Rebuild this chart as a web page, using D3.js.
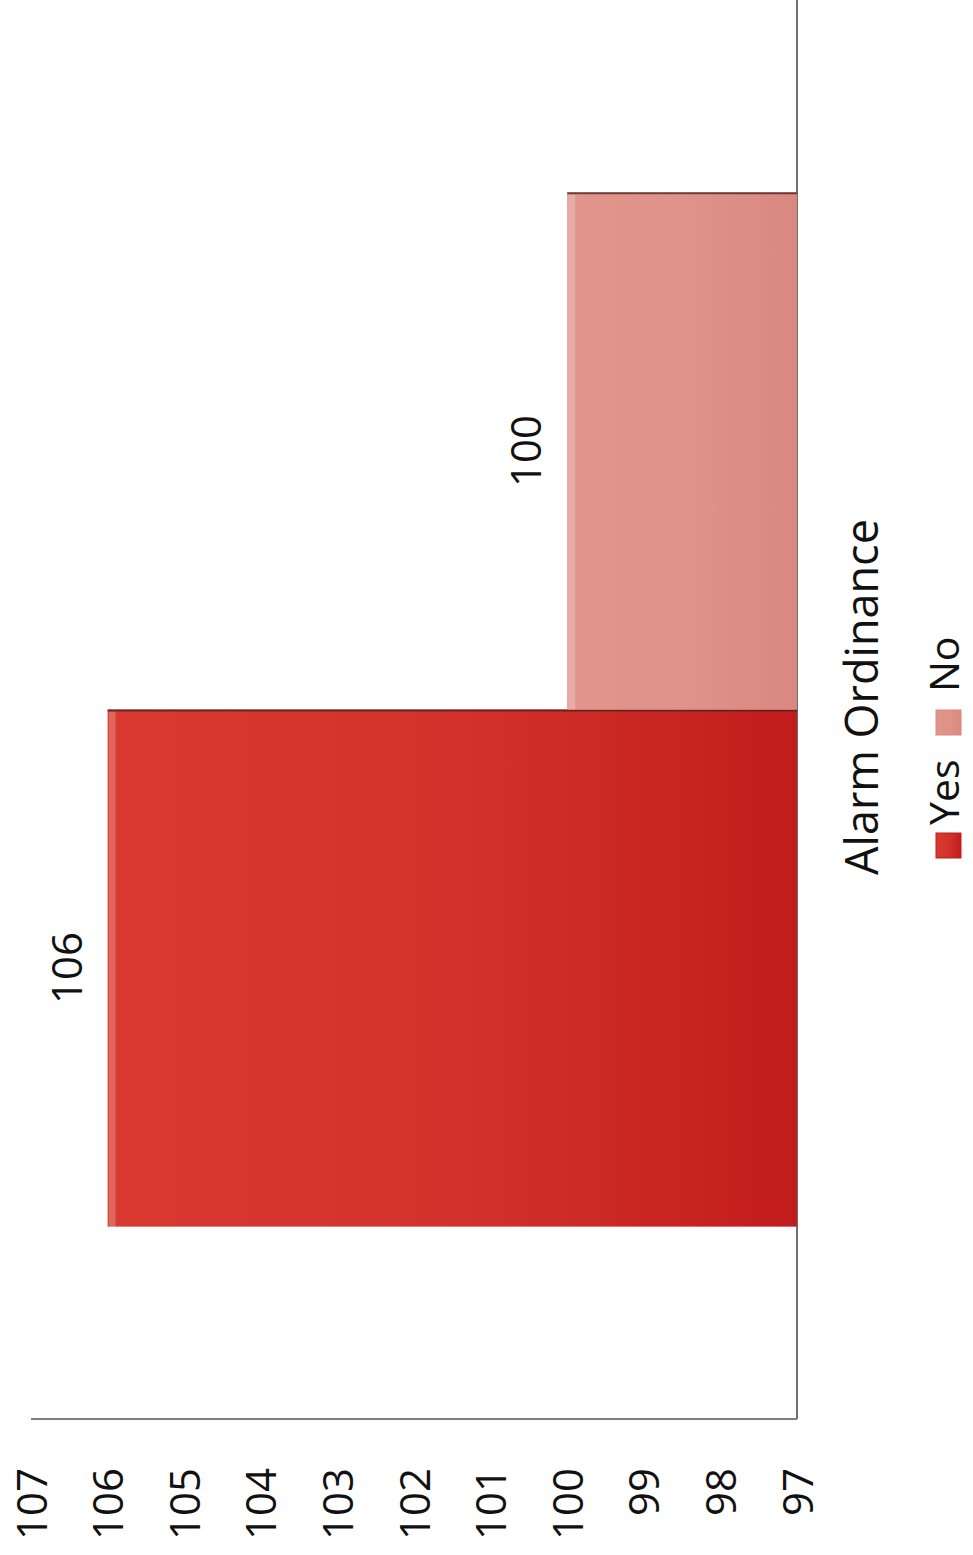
<!DOCTYPE html>
<html>
<head>
<meta charset="utf-8">
<script src="https://cdn.jsdelivr.net/npm/d3@7"></script>
<style>
  html, body { margin: 0; padding: 0; background: #ffffff; }
  svg { display: block; font-family: "Open Sans", sans-serif; }
</style>
</head>
<body>
<svg id="chart" width="973" height="1555"></svg>
<script>
// ---- data ----
const legendTitle = "Alarm Ordinance";
const seriesNames = ["Yes", "No"];
const seriesValues = [106, 100];
const tickValues = [97, 98, 99, 100, 101, 102, 103, 104, 105, 106, 107];
const seriesColorsTop = ["#d83a30", "#e0968c"];
const seriesColorsBottom = ["#c21c1c", "#d98880"];

const W = 973, H = 1555;
const svg = d3.select("#chart");

// The whole chart is drawn rotated by -90 degrees.
const g = svg.append("g").attr("transform", `translate(0,${H}) rotate(-90)`);

const defs = svg.append("defs");
seriesNames.forEach((s, i) => {
  const gr = defs.append("linearGradient").attr("id", "grad" + i)
    .attr("x1", 0).attr("y1", 0).attr("x2", 0).attr("y2", 1);
  gr.append("stop").attr("offset", "0%").attr("stop-color", seriesColorsTop[i]);
  gr.append("stop").attr("offset", "55%").attr("stop-color", d3.interpolateRgb(seriesColorsTop[i], seriesColorsBottom[i])(0.3));
  gr.append("stop").attr("offset", "100%").attr("stop-color", seriesColorsBottom[i]);
});

const plotLeft = 136, plotRight = 1555, plotTop = 31, plotBottom = 797;

const y = d3.scaleLinear().domain([97, 107]).range([plotBottom, plotTop]);
const x = d3.scaleBand().domain(seriesNames).range([plotLeft, plotRight])
  .paddingInner(0).paddingOuter(0.372);

// value axis labels
const yAxis = d3.axisLeft(y).tickValues(tickValues).tickSize(0).tickPadding(0).tickFormat(d3.format("d"));
const ya = g.append("g").attr("transform", `translate(87,0)`).call(yAxis);
ya.select(".domain").remove();
ya.selectAll("text").attr("font-size", 42).attr("fill", "#111")
  .attr("font-family", "'Open Sans', sans-serif").attr("dy", "0.36em");

// axis lines
g.append("line").attr("x1", plotLeft).attr("x2", plotLeft)
  .attr("y1", plotTop).attr("y2", plotBottom)
  .attr("stroke", "#7f7f7f").attr("stroke-width", 2);
g.append("line").attr("x1", plotLeft).attr("x2", plotRight)
  .attr("y1", plotBottom).attr("y2", plotBottom)
  .attr("stroke", "#6f6f6f").attr("stroke-width", 2);

// bars
const data = seriesNames.map((s, i) => ({ name: s, value: seriesValues[i], i }));
const bars = g.append("g").selectAll("g.bar").data(data).join("g").attr("class", "bar");
bars.append("rect")
  .attr("x", d => x(d.name))
  .attr("y", d => y(d.value))
  .attr("width", x.bandwidth())
  .attr("height", d => y(97) - y(d.value))
  .attr("fill", d => `url(#grad${d.i})`);
// bevel: light strip along the value end, dark edge along one side
bars.append("rect")
  .attr("x", d => x(d.name))
  .attr("y", d => y(d.value) + 1)
  .attr("width", x.bandwidth() - 2)
  .attr("height", 7)
  .attr("fill", "#ffffff").attr("opacity", 0.22);
bars.append("line")
  .attr("x1", d => x(d.name) + x.bandwidth() - 1).attr("x2", d => x(d.name) + x.bandwidth() - 1)
  .attr("y1", d => y(d.value)).attr("y2", d => y(97))
  .attr("stroke", "#4a2020").attr("stroke-width", 2).attr("opacity", 0.75);

// data labels
g.append("g").selectAll("text").data(data).join("text")
  .attr("x", d => x(d.name) + x.bandwidth() / 2)
  .attr("y", d => y(d.value) - 26)
  .attr("text-anchor", "middle")
  .attr("font-size", 42).attr("fill", "#111")
  .text(d => d3.format("d")(d.value));

// legend
g.append("text")
  .attr("x", 858).attr("y", 878)
  .attr("text-anchor", "middle")
  .attr("font-size", 45).attr("fill", "#111")
  .text(legendTitle);

const legendU = [697, 820];
const legendTextU = [730, 863];
const lg = g.append("g").selectAll("g").data(data).join("g");
lg.append("rect")
  .attr("x", d => legendU[d.i]).attr("y", 936)
  .attr("width", 25).attr("height", 25)
  .attr("fill", d => `url(#grad${d.i})`)
  .attr("stroke", d => seriesColorsBottom[d.i]).attr("stroke-width", 1);
lg.append("text")
  .attr("x", d => legendTextU[d.i]).attr("y", 959)
  .attr("font-size", 41).attr("fill", "#111")
  .text(d => d.name);
</script>
</body>
</html>
